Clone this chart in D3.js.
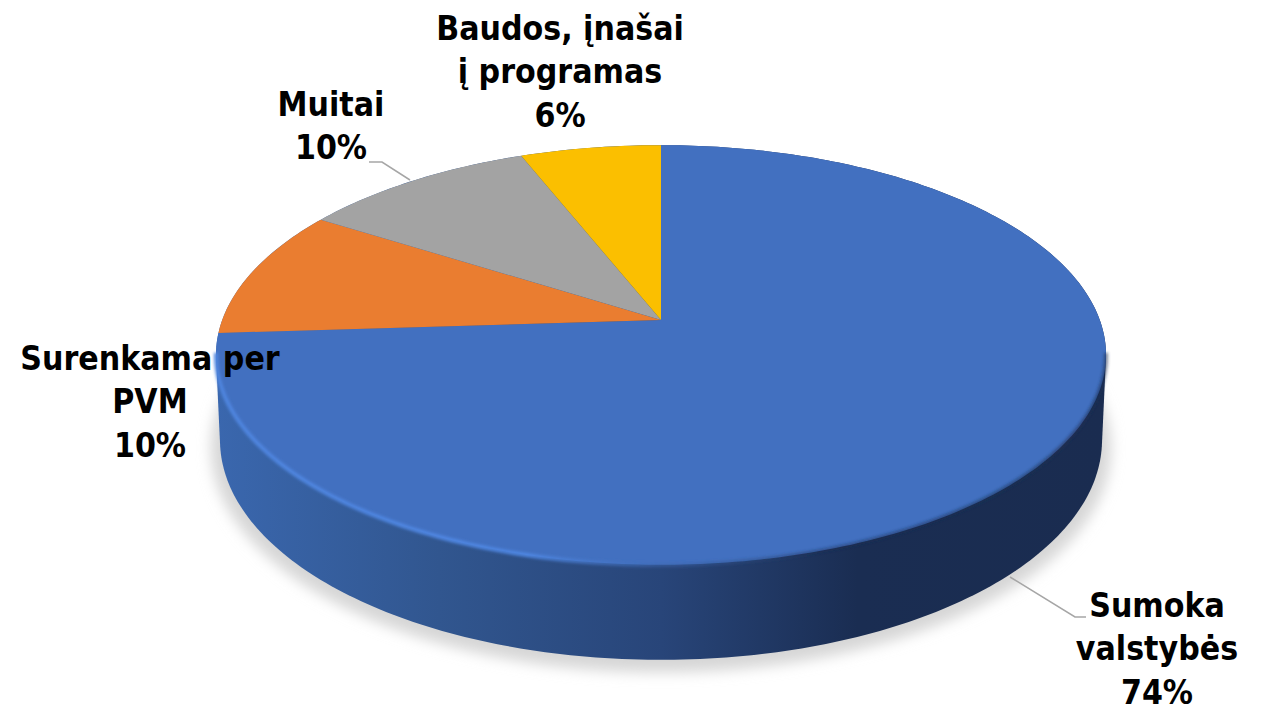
<!DOCTYPE html>
<html>
<head>
<meta charset="utf-8">
<script src="https://cdn.jsdelivr.net/npm/d3@7"></script>
<style>
  body { margin: 0; background: #fff; }
  text { font-family: "DejaVu Sans", sans-serif; font-stretch: condensed; font-weight: bold; font-size: 33.5px; fill: #000; text-anchor: middle; }
</style>
</head>
<body>
<svg id="chart" width="1261" height="705"></svg>
<script>
// data
const categories = ["Sumoka valstybės", "Surenkama per PVM", "Muitai", "Baudos, įnašai į programas"];
const values = [74, 10, 10, 6];
const labelLines = [
    ["Sumoka", "valstybės", "74%"],
    ["Surenkama per", "PVM", "10%"],
    ["Muitai", "10%"],
    ["Baudos, įnašai", "į programas", "6%"]
];
const colors = ["#4270c0", "#ea7d30", "#a3a3a3", "#fbbf00"];

const svg = d3.select("#chart");
const defs = svg.append("defs");

const cx = 661, apexY = 320;
// perspective tilt of the pie disc, far edge gets smaller
const tilt = 1 / 6, scaleX = 438.8, scaleY = 204;
const rimY = 355;

function project(angle) {
    const x = Math.sin(angle);
    const y = Math.cos(angle);
    const w = 1 + tilt * y;
    return [cx + scaleX * x / w, apexY - scaleY * y / w];
}

// lower rim is closer to the viewer so slightly taller
function lower(p, grow, extra) {
    return [cx + (p[0] - cx) * 0.991 * grow, 440 + extra + (p[1] - rimY) * 1.048 * grow];
}

const line = d3.line();

function arcPoints(a0, a1) {
    const n = Math.max(2, Math.ceil((a1 - a0) * 60));
    return d3.range(n + 1).map(i => project(a0 + (a1 - a0) * i / n));
}

const full = arcPoints(0, 2 * Math.PI);
const fullLow = full.map(p => lower(p, 1, 0));

// soft shadow under the disc
const blur = defs.append("filter").attr("id", "soft")
    .attr("x", "-10%").attr("y", "-20%").attr("width", "120%").attr("height", "140%");
blur.append("feGaussianBlur").attr("stdDeviation", 7);

svg.append("path")
    .attr("d", line(full.map(p => lower(p, 1.02, 8))) + "Z")
    .attr("fill", "#d6d6d6")
    .attr("filter", "url(#soft)");

// side wall
const sideGrad = defs.append("linearGradient").attr("id", "side")
    .attr("gradientUnits", "userSpaceOnUse")
    .attr("x1", 216).attr("x2", 1107).attr("y1", 0).attr("y2", 0);
[[0, "#3a67ae"], [0.25, "#31568f"], [0.5, "#284579"], [0.72, "#1a2d52"], [1, "#1a2c50"]].forEach(s => {
    sideGrad.append("stop").attr("offset", s[0]).attr("stop-color", s[1]);
});

svg.append("path")
    .attr("d", line(d3.polygonHull(full.concat(fullLow))) + "Z")
    .attr("fill", "url(#side)");

// top slices
const pie = d3.pie().sort(null).startAngle(0).endAngle(2 * Math.PI);
const arcs = pie(values);

svg.append("g").selectAll("path")
    .data(arcs)
    .join("path")
    .attr("d", d => line([[cx, apexY]].concat(arcPoints(d.startAngle, d.endAngle))) + "Z")
    .attr("fill", (d, i) => colors[i]);

// bevel along the front rim: bright on the left, fading to a dark soft edge on the right
const bevelGrad = defs.append("linearGradient").attr("id", "bevel")
    .attr("gradientUnits", "userSpaceOnUse")
    .attr("x1", 216).attr("x2", 1107).attr("y1", 0).attr("y2", 0);
[[0, "#4f86e0", 1], [0.35, "#5089e6", 0.95], [0.52, "#3c66ad", 0.5], [0.68, "#1a2d52", 0.45], [1, "#1a2d52", 0.6]].forEach(s => {
    bevelGrad.append("stop").attr("offset", s[0]).attr("stop-color", s[1]).attr("stop-opacity", s[2]);
});
const blurThin = defs.append("filter").attr("id", "thin");
blurThin.append("feGaussianBlur").attr("stdDeviation", 1.6);

svg.append("path")
    .attr("d", line(arcPoints(Math.PI * 0.55, Math.PI * 1.45)))
    .attr("fill", "none")
    .attr("stroke", "url(#bevel)")
    .attr("stroke-width", 4)
    .attr("filter", "url(#thin)");

// leader lines
const leaders = [
    [[1010, 577], [1075, 617], [1086, 617]],
    [[369, 162], [382, 162], [410, 180]]
];
svg.append("g").selectAll("path")
    .data(leaders)
    .join("path")
    .attr("d", d => line(d))
    .attr("fill", "none")
    .attr("stroke", "#a6a6a6")
    .attr("stroke-width", 1.5);

// data labels
const labelAnchors = [
    { x: 1157, y: 617 },
    { x: 150, y: 370 },
    { x: 331, y: 116 },
    { x: 560, y: 40 }
];
const labelGroups = svg.append("g").selectAll("text")
    .data(labelLines)
    .join("text")
    .attr("x", (d, i) => labelAnchors[i].x)
    .attr("y", (d, i) => labelAnchors[i].y);
labelGroups.selectAll("tspan")
    .data(d => d)
    .join("tspan")
    .attr("x", function () { return this.parentNode.getAttribute("x"); })
    .attr("dy", (d, i) => i === 0 ? 0 : 43.3)
    .text(d => d);
</script>
</body>
</html>
